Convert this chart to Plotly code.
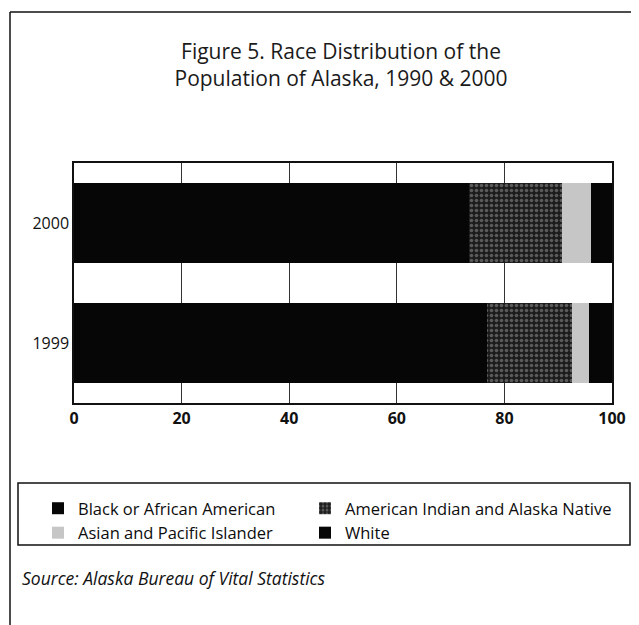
import plotly.graph_objects as go

# data (percent of population)
years = ["1999", "2000"]
races = ["White", "American Indian and Alaska Native",
         "Asian and Pacific Islander", "Black or African American"]
white = [76.8, 73.4]
am_indian = [15.7, 17.3]
asian = [3.3, 5.4]
black = [4.2, 3.9]
x_ticks = [0, 20, 40, 60, 80, 100]

OFF = 8  # the page body adds an 8px margin
W, H = 639 - OFF, 625 - OFF
L, R, T, B = 74 - OFF, 612 - OFF, 163 - OFF, 403 - OFF  # plot area in px


def px_x(p):
    return (p - OFF - L) / (R - L)


def px_y(p):
    return (B - (p - OFF)) / (B - T)


FONT = "Open Sans"

fig = go.Figure()

# (values, name, marker, legend column, rank)
series = [
    (white, races[0], dict(color="#060606"), "legend2", 2),
    (am_indian, races[1], dict(color="#1c1c1c",
                               pattern=dict(shape=".", fgcolor="#9a9a9a",
                                            bgcolor="#1c1c1c", size=5, solidity=0.4)), "legend2", 1),
    (asian, races[2], dict(color="#c6c6c6"), "legend", 2),
    (black, races[3], dict(color="#060606"), "legend", 1),
]
for vals, name, marker, leg, rank in series:
    fig.add_trace(go.Bar(
        x=vals, y=years, name=name, orientation="h",
        marker=dict(line=dict(width=0), **marker),
        legend=leg, legendrank=rank,
    ))

# frame lines and legend box
shapes = [
    dict(type="line", x0=px_x(10), x1=px_x(650), y0=px_y(12), y1=px_y(12)),
    dict(type="line", x0=px_x(10), x1=px_x(10), y0=px_y(12), y1=px_y(640)),
    dict(type="rect", x0=px_x(18), x1=px_x(630), y0=px_y(483), y1=px_y(545)),
]
for s in shapes:
    s.update(xref="paper", yref="paper", line=dict(color="#111", width=1.5))

legend_style = dict(
    orientation="v", yanchor="top", xanchor="left", traceorder="normal",
    font=dict(size=16.5, family=FONT, color="#0d0d0d"), bgcolor="rgba(0,0,0,0)",
)

fig.update_layout(
    width=W, height=H,
    margin=dict(l=L, r=W - R, t=T, b=H - B),
    paper_bgcolor="white", plot_bgcolor="white",
    barmode="stack", bargap=0.34,
    font=dict(family=FONT, color="#111"),
    title=dict(
        text="Figure 5. Race Distribution of the<br>Population of Alaska, 1990 & 2000",
        x=(341 - OFF) / W, xanchor="center", xref="container",
        y=1 - (59 - OFF) / H, yanchor="top", yref="container",
        font=dict(size=21, family=FONT, color="#1a1a1a"),
    ),
    xaxis=dict(
        range=[0, 100], tickvals=x_ticks, showgrid=True, gridcolor="#333",
        gridwidth=1, showline=True, mirror=True, linecolor="#111", linewidth=2,
        ticks="", tickfont=dict(size=16, family=FONT, weight="bold"),
        zeroline=False, fixedrange=True,
    ),
    yaxis=dict(
        categoryorder="array", categoryarray=years, range=[-0.5, 1.5],
        showline=True, mirror=True, linecolor="#111", linewidth=1.5,
        ticks="", tickfont=dict(size=16, family=FONT), showgrid=False,
    ),
    legend=dict(x=px_x(38), y=px_y(491), **legend_style),
    legend2=dict(x=px_x(305), y=px_y(491), **legend_style),
    shapes=shapes,
    annotations=[dict(
        text="<i>Source: Alaska Bureau of Vital Statistics</i>",
        xref="paper", yref="paper", x=px_x(20), y=px_y(578),
        xanchor="left", yanchor="middle", showarrow=False,
        font=dict(size=17.5, family=FONT, color="#111"),
    )],
)

fig.write_html("out.html")
